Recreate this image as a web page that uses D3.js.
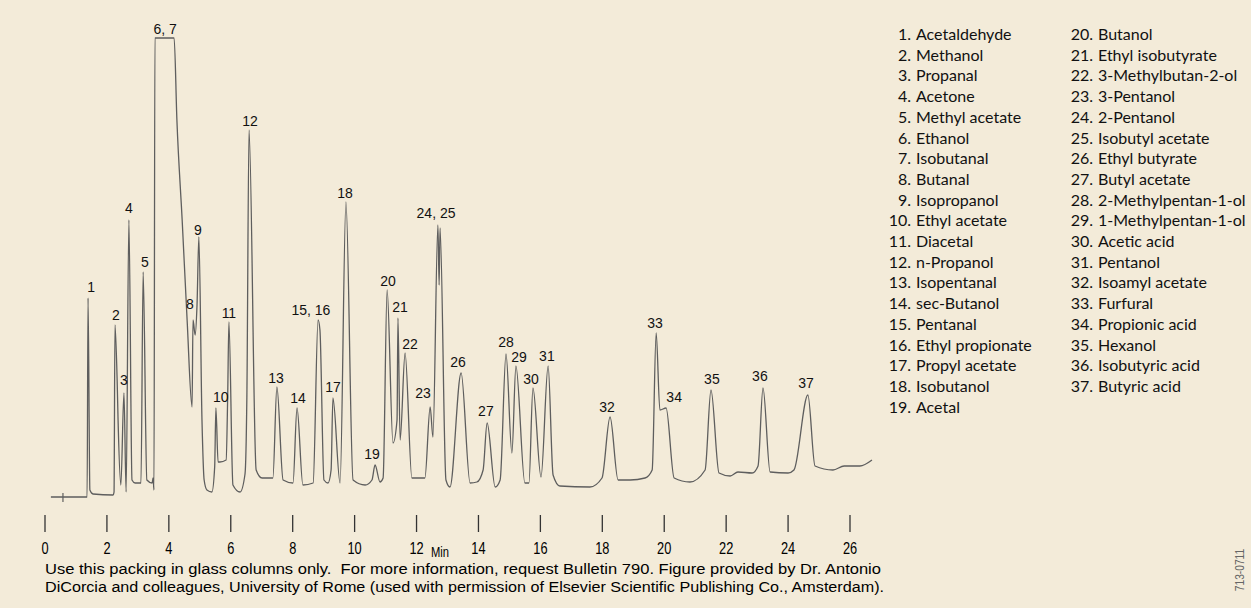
<!DOCTYPE html>
<html>
<head>
<meta charset="utf-8">
<script src="https://cdn.jsdelivr.net/npm/d3@7"></script>
<style>
  body { margin: 0; background: #f3ebd9; }
  svg { display: block; }
</style>
</head>
<body>
<svg id="chart" width="1251" height="608"></svg>
<script>
// trace vertices (time in min, detector signal)
var traceTime = [0.19,1.36,1.39,1.45,1.55,2.20,2.23,2.26,2.33,2.36,2.45,2.55,2.62,2.71,2.81,2.91,3.10,3.17,3.29,3.46,3.49,3.52,3.55,4.17,4.26,4.43,4.59,4.75,4.78,4.85,4.91,4.97,5.07,5.14,5.23,5.39,5.48,5.52,5.59,5.65,5.85,5.90,5.94,6.07,6.30,6.46,6.52,6.59,6.82,7.01,7.36,7.49,7.69,8.01,8.14,8.33,8.66,8.82,8.88,9.01,9.14,9.24,9.30,9.53,9.72,9.95,10.34,10.56,10.66,10.82,10.92,11.05,11.24,11.37,11.40,11.47,11.63,11.85,12.27,12.44,12.53,12.69,12.73,12.76,12.95,13.08,13.44,13.73,13.95,14.15,14.28,14.54,14.70,14.89,15.08,15.21,15.50,15.63,15.76,16.02,16.25,16.41,16.63,17.60,17.99,18.25,18.51,18.90,19.38,19.61,19.74,19.86,20.06,20.32,20.83,21.32,21.51,21.77,22.13,22.38,22.84,23.03,23.19,23.42,24.00,24.19,24.64,24.87,25.45,25.81,26.32,26.71];
var traceSignal = [0,0,199,7,3,2,5,172,117,77,12,104,5,277,17,14,14,225,17,14,19,7,459,459,377,277,177,90,177,162,192,260,77,17,7,5,30,89,35,35,37,100,175,12,5,23,100,367,27,19,19,110,17,14,89,12,14,177,167,17,14,27,99,14,295,17,12,17,32,15,19,207,54,77,179,57,144,19,19,90,60,272,212,269,17,10,124,14,15,27,74,10,17,143,44,131,14,14,109,20,131,22,11,10,19,80,17,17,19,27,164,87,89,19,15,27,107,24,21,25,24,31,109,25,24,27,102,31,27,31,31,37];

// peak labels and where they sit
var peakLabels = ["1","2","3","4","5","6, 7","8","9","10","11","12","13","14","15, 16","17","18","19","20","21","22","23","24, 25","26","27","28","29","30","31","32","33","34","35","36","37"];
var labelTime = [1.49,2.29,2.55,2.71,3.23,3.88,4.68,4.94,5.68,5.94,6.62,7.46,8.17,8.59,9.30,9.69,10.56,11.08,11.47,11.79,12.21,12.63,13.34,14.24,14.89,15.31,15.70,16.21,18.15,19.70,20.32,21.54,23.09,24.58];
var labelSignal = [210,182,117,289,235,468,193,267,100,184,376,119,99,187,110,304,43,216,190,153,104,284,135,86,155,140,118,141,90,174,100,118,121,114];

var compounds = ["Acetaldehyde","Methanol","Propanal","Acetone","Methyl acetate","Ethanol","Isobutanal","Butanal","Isopropanol","Ethyl acetate","Diacetal","n-Propanol","Isopentanal","sec-Butanol","Pentanal","Ethyl propionate","Propyl acetate","Isobutanol","Acetal","Butanol","Ethyl isobutyrate","3-Methylbutan-2-ol","3-Pentanol","2-Pentanol","Isobutyl acetate","Ethyl butyrate","Butyl acetate","2-Methylpentan-1-ol","1-Methylpentan-1-ol","Acetic acid","Pentanol","Isoamyl acetate","Furfural","Propionic acid","Hexanol","Isobutyric acid","Butyric acid"];

var tickValues = d3.range(0, 27, 2);

var svg = d3.select("#chart");
var x = d3.scaleLinear().domain([0, 26]).range([45, 850]);
var y = d3.scaleLinear().domain([0, 480]).range([497, 17]);

var pts = traceTime.map((t, i) => [t, traceSignal[i]]);
var line = d3.line().x(d => x(d[0])).y(d => y(d[1])).curve(d3.curveMonotoneX);

svg.append("path")
  .attr("d", line(pts))
  .attr("fill", "none")
  .attr("stroke", "#5e5e5e")
  .attr("stroke-width", 1.3);

// injection mark
svg.append("line")
  .attr("x1", x(0.58)).attr("x2", x(0.58))
  .attr("y1", y(0) - 4).attr("y2", y(0) + 5)
  .attr("stroke", "#5e5e5e").attr("stroke-width", 1.2);

// peak numbers
svg.selectAll("text.peak")
  .data(peakLabels)
  .enter().append("text")
  .attr("class", "peak")
  .attr("x", (d, i) => x(labelTime[i]))
  .attr("y", (d, i) => y(labelSignal[i]) + 5)
  .attr("text-anchor", "middle")
  .attr("font-family", "Liberation Sans, Arial, sans-serif")
  .attr("font-size", 14)
  .attr("fill", "#111")
  .text(d => d);

// condensed text: squeeze a normal sans horizontally
function narrow(sel, px, py, size, anchor) {
  return sel.append("text")
    .attr("transform", `translate(${px},${py}) scale(0.8,1)`)
    .attr("text-anchor", anchor || "start")
    .attr("font-family", "Liberation Sans, Arial, sans-serif")
    .style("font-size", size + "px");
}

// time axis
var axisG = svg.append("g");
axisG.selectAll("line")
  .data(tickValues)
  .enter().append("line")
  .attr("x1", d => x(d)).attr("x2", d => x(d))
  .attr("y1", 515).attr("y2", 532)
  .attr("stroke", "#333").attr("stroke-width", 1.3);
tickValues.forEach(d => narrow(axisG, x(d), 554, 16, "middle").text(d));
narrow(svg, 440, 557, 14, "middle").text("Min");

// caption
var caption = ["Use this packing in glass columns only.  For more information, request Bulletin 790. Figure provided by Dr. Antonio",
  "DiCorcia and colleagues, University of Rome (used with permission of Elsevier Scientific Publishing Co., Amsterdam)."];
var capLen = [836, 839];
caption.forEach((c, i) => {
  svg.append("text")
    .attr("x", 45).attr("y", 574 + i * 18)
    .attr("font-family", "Liberation Sans, Arial, sans-serif")
    .attr("font-size", 15.5)
    .attr("textLength", capLen[i])
    .attr("lengthAdjust", "spacingAndGlyphs")
    .style("white-space", "pre")
    .text(c);
});

var stamp = narrow(svg, 1244, 570, 12, "middle").attr("fill", "#666").text("713-0711");
stamp.attr("transform", "translate(1244,570) rotate(-90) scale(0.85,1)");

// compound legend, two columns
var leg = svg.append("g").attr("font-family", "Lato, Open Sans, sans-serif").attr("font-size", 16).attr("fill", "#111");
compounds.forEach((c, i) => {
  var col = i < 19 ? 0 : 1;
  var row = col ? i - 19 : i;
  var nx = col ? 1093 : 911;
  var yy = 40 + row * 20.7;
  leg.append("text").attr("x", nx).attr("y", yy).attr("text-anchor", "end").text((i + 1) + ".");
  leg.append("text").attr("x", nx + 5).attr("y", yy).text(c);
});
</script>
</body>
</html>
